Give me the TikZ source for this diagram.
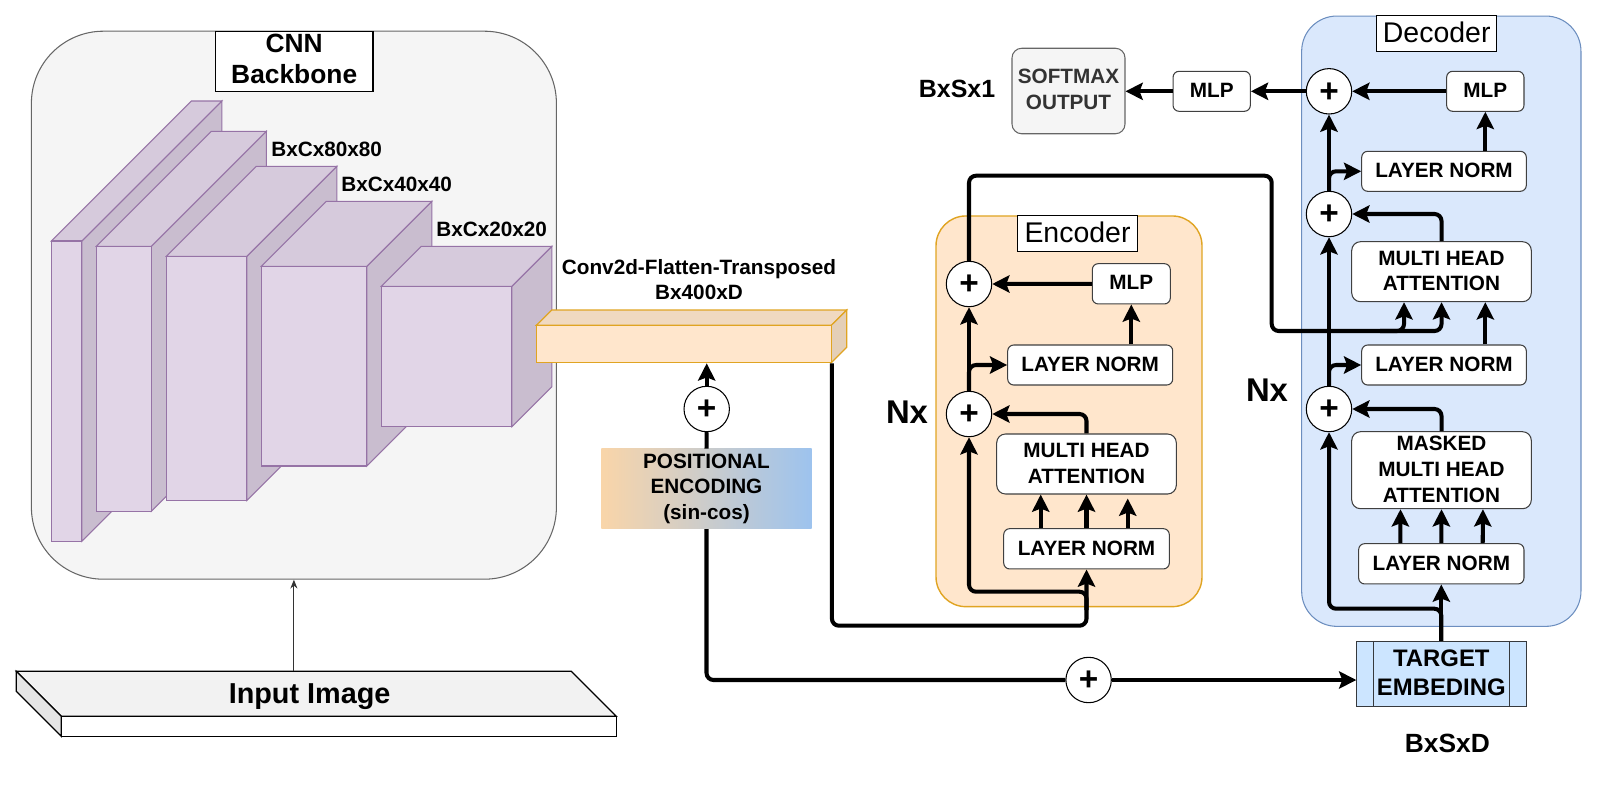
\documentclass[tikz,border=0pt]{standalone}
\usepackage{fontspec}
\setmainfont{Liberation Sans}
\usetikzlibrary{arrows.meta,calc}

\definecolor{cubefront}{HTML}{E1D5E7}
\definecolor{cubetop}{HTML}{D6CADC}
\definecolor{cubeside}{HTML}{C9BDCF}
\definecolor{cubeline}{HTML}{9673A6}
\definecolor{flatfront}{HTML}{FFE6CC}
\definecolor{flattop}{HTML}{F0D9C0}
\definecolor{flatside}{HTML}{E4CFB7}
\definecolor{flatline}{HTML}{E0A422}
\definecolor{blueback}{HTML}{DAE8FC}
\definecolor{blueline}{HTML}{6C8EBF}
\definecolor{greyback}{HTML}{F5F5F5}
\definecolor{greyline}{HTML}{666666}
\definecolor{targetback}{HTML}{CCE5FF}
\definecolor{targetline}{HTML}{36393D}
\definecolor{posleft}{HTML}{F9D5A9}
\definecolor{posright}{HTML}{9DC3EE}

\tikzset{
  wh/.style 2 args={minimum width=#1*0.02cm, minimum height=#2*0.02cm, inner sep=0pt},
  smalltext/.style={font=\fontsize{11.8}{14.6}\selectfont\bfseries, align=center},
  bigtext/.style={font=\fontsize{15}{17.5}\selectfont\bfseries, align=center},
  titlebox/.style={draw=black, fill=white, line width=0.6pt, font=\fontsize{16.2}{19}\selectfont, align=center},
  block/.style={draw=black!75, fill=white, line width=0.6pt, rounded corners=3.4pt, smalltext, text depth=1.1pt},
  plusnode/.style={circle, draw=black, fill=white, line width=0.6pt, minimum size=45.4*0.02cm, inner sep=0pt, font=\fontsize{19}{19}\selectfont\bfseries, text height=12.3pt, text depth=0pt},
  flow/.style={line width=2.3pt, rounded corners=4pt},
  arr/.style={flow, -{Stealth[length=9.8pt,width=9.8pt,inset=1.8pt]}},
}

\begin{document}
\begin{tikzpicture}[x=0.02cm,y=-0.02cm]
\useasboundingbox (0,0) rectangle (1598,788);

\node[wh={525}{548}, draw=greyline, fill=greyback, rounded corners=41pt, line width=0.6pt] (cnn) at (293.9,305.2) {};
\node[titlebox, wh={157.6}{60}] (cnntitle) at (294.2,61.3) {};
\node[bigtext, inner sep=0pt] (cnnname) at (294.2,58.8) {CNN\\Backbone};

\foreach \fl/\fr/\ft/\fb/\dp in {51.4/81.8/241/541.3/140, 96.4/151.4/246.3/511.3/115, 166.4/246.8/256.3/500.5/90, 261.4/366.8/266.3/466/65, 381.4/511.8/286.3/426.7/40} {
\filldraw[draw=cubeline, fill=cubeside, line width=0.6pt] (\fr,\ft) -- ++(\dp,-\dp) -- ({\fr+\dp},{\fb-\dp}) -- (\fr,\fb) -- cycle;
\filldraw[draw=cubeline, fill=cubetop, line width=0.6pt] (\fl,\ft) -- ++(\dp,-\dp) -- ({\fr+\dp},{\ft-\dp}) -- (\fr,\ft) -- cycle;
\filldraw[draw=cubeline, fill=cubefront, line width=0.6pt] (\fl,\ft) rectangle (\fr,\fb);
}

\node[smalltext, anchor=west, inner sep=0pt] (sa) at (271,149.3) {BxCx80x80};
\node[smalltext, anchor=west, inner sep=0pt] (sb) at (341,184.3) {BxCx40x40};
\node[smalltext, anchor=west, inner sep=0pt] (sc) at (436,229.3) {BxCx20x20};

\filldraw[draw=flatline, fill=flattop, line width=0.7pt] (536.3,325.3) -- ++(15.4,-15.3) -- (846.7,310) -- (831.3,325.3) -- cycle;
\filldraw[draw=flatline, fill=flatside, line width=0.7pt] (831.3,325.3) -- (846.7,310) -- (846.7,347.4) -- (831.3,362.7) -- cycle;
\node[wh={295}{37.4}, draw=flatline, fill=flatfront, line width=0.7pt] (flat) at (683.8,344) {};
\node[smalltext] (flatname) at (699,279.7) {Conv2d-Flatten-Transposed\\Bx400xD};

\node[wh={210.4}{79.7}, left color=posleft, right color=posright, shading=axis, smalltext] (posenc) at (706.5,488.8) {POSITIONAL\\ENCODING\\(sin-cos)};
\node[plusnode] (plusp) at (706.7,409) {+};
\node[plusnode] (plust) at (1088.6,680) {+};

\draw[flow] (posenc.north) -- (plusp.south);
\draw[arr] (plusp.north) -- (plusp.north |- flat.south);
\draw[flow] (posenc.south) |- (plust.west);
\draw[arr] (plust.east) -- (plust.east -| 1356.3,0);

\filldraw[fill=white!95!black, draw=black, line width=0.7pt] (16.3,671.3) -- (571.4,671.3) -- (616.3,716.3) -- (61.2,716.3) -- cycle;
\filldraw[fill=white!90!black, draw=black, line width=0.7pt] (16.3,671.3) -- (61.2,716.3) -- (61.2,736.3) -- (16.3,691.3) -- cycle;
\filldraw[fill=white, draw=black, line width=0.7pt] (61.2,716.3) rectangle (616.3,736.3);
\node[font=\fontsize{16.4}{19}\selectfont\bfseries] (inputname) at (309.6,697) {Input Image};
\coordinate (inp) at (293.9,671.3);
\draw[-{Stealth[length=5pt,width=4pt]}, line width=0.6pt, draw=black!80] (inp) -- (cnn.south);

\node[wh={266}{390.7}, draw=flatline, fill=flatfront, rounded corners=17pt, line width=0.8pt] (enc) at (1069,411.3) {};
\node[titlebox, wh={120.4}{35.3}, text depth=2pt] (enctitle) at (1077.5,233.6) {Encoder};
\node[plusnode] (plusf) at (969,284) {+};
\node[plusnode] (pluse) at (969,414) {+};
\node[block, wh={78}{40.3}] (mlpa) at (1131.3,283.8) {MLP};
\node[block, wh={165}{40}] (lnb) at (1090.2,365) {LAYER NORM};
\node[block, wh={179.6}{60}, rounded corners=5pt] (mha) at (1086.5,464) {MULTI HEAD\\ATTENTION};
\node[block, wh={165.6}{40.3}] (lna) at (1086.5,548.8) {LAYER NORM};
\node[font=\fontsize{18.7}{20}\selectfont\bfseries] (nxa) at (907,412.3) {Nx};

\draw[arr] (mlpa.west) -- (plusf.east);
\draw[arr] (lnb.north -| mlpa.south) -- (mlpa.south);
\draw[arr] (pluse.north) -- (plusf.south);
\draw[arr] (pluse.north) |- (lnb.west);
\draw[arr] (mha.north) |- (pluse.east);
\draw[arr] ($(lna.north)+(-45.8,0)$) -- ($(mha.south)+(-45.8,0)$);
\draw[arr] (lna.north) -- (mha.south);
\draw[arr] ($(lna.north)+(41.2,0)$) -- ($(mha.south)+(41.2,4)$);

\coordinate (ina) at (1086.5,625.7);
\coordinate (inb) at (1086.5,610);
\coordinate (inc) at (969,591.7);
\draw[arr] (flat.south east) |- (ina) -- (lna.south);
\draw[arr] (inb) |- (inc) -- (pluse.south);

\node[wh={279.3}{610.3}, draw=blueline, fill=blueback, rounded corners=20pt, line width=0.6pt] (dec) at (1441.3,321.2) {};
\node[titlebox, wh={120}{35.3}, text depth=2pt] (dectitle) at (1436.7,33.6) {Decoder};
\node[plusnode] (plush) at (1329,91.3) {+};
\node[plusnode] (plusg) at (1329,214) {+};
\node[plusnode] (plusd) at (1329,409) {+};
\node[block, wh={77.3}{40}] (mlpc) at (1485.3,91.3) {MLP};
\node[block, wh={164.6}{40}] (lne) at (1444,171.3) {LAYER NORM};
\node[block, wh={179.6}{60}, rounded corners=5pt] (mhb) at (1441.5,271.7) {MULTI HEAD\\ATTENTION};
\node[block, wh={164.6}{40}] (lnd) at (1444,365) {LAYER NORM};
\node[block, wh={179.6}{77}, rounded corners=5pt] (mmha) at (1441.5,470.2) {MASKED\\MULTI HEAD\\ATTENTION};
\node[block, wh={165.3}{40.3}] (lnc) at (1441.3,563.8) {LAYER NORM};
\node[font=\fontsize{18.7}{20}\selectfont\bfseries] (nxb) at (1267,390) {Nx};

\node[wh={170}{65}, draw=targetline, fill=targetback, line width=0.6pt, font=\fontsize{13.6}{16.5}\selectfont\bfseries, align=center, text depth=1.2pt] (target) at (1441.3,673.8) {TARGET\\EMBEDING};
\draw[targetline, line width=0.6pt] (1373.3,0 |- target.north) -- (1373.3,0 |- target.south);
\draw[targetline, line width=0.6pt] (1509.7,0 |- target.north) -- (1509.7,0 |- target.south);
\node[bigtext] (sizet) at (1447.3,743.3) {BxSxD};

\node[block, wh={77.3}{40}] (mlpb) at (1211.7,91.3) {MLP};
\node[wh={113}{85.5}, draw=greyline, fill=greyback, rounded corners=5.5pt, line width=0.6pt, smalltext, text=black!80, text depth=2.2pt] (softmax) at (1068.5,91) {SOFTMAX\\OUTPUT};
\node[font=\fontsize{14.2}{17}\selectfont\bfseries] (sizes) at (957,89) {BxSx1};

\draw[arr] (plush.west) -- (mlpb.east);
\draw[arr] (mlpb.west) -- (mlpb.west -| softmax.east);
\draw[arr] (mlpc.west) -- (plush.east);
\draw[arr] (lne.north -| mlpc.south) -- (mlpc.south);
\draw[arr] (plusg.north) -- (plush.south);
\draw[arr] (plusg.north) |- (lne.west);
\draw[arr] (mhb.north) |- (plusg.east);
\draw[arr] (plusd.north) -- (plusg.south);
\draw[arr] (plusd.north) |- (lnd.west);
\draw[arr] (lnd.north -| mlpc.south) -- (mhb.south -| mlpc.south);
\draw[arr] (mmha.north) |- (plusd.east);
\draw[arr] ($(lnc.north)+(-41,0)$) -- ($(mmha.south)+(-41,0)$);
\draw[arr] (lnc.north) -- (mmha.south);
\draw[arr] ($(lnc.north)+(41.4,0)$) -- ($(mmha.south)+(41.4,0)$);

\coordinate (ind) at (1329,608.7);
\draw[arr] (target.north) -- (lnc.south);
\draw[arr] (target.north) |- (ind) -- (plusd.south);

\coordinate (skipa) at (1271.7,175.7);
\coordinate (skipb) at (1441.5,331);
\coordinate (skipc) at (1380,331);
\draw[arr] (plusf.north) |- (skipa) |- (skipb) -- (mhb.south);
\draw[arr] (skipc) -| ($(mhb.south)+(-37.5,0)$);
\end{tikzpicture}
\end{document}
